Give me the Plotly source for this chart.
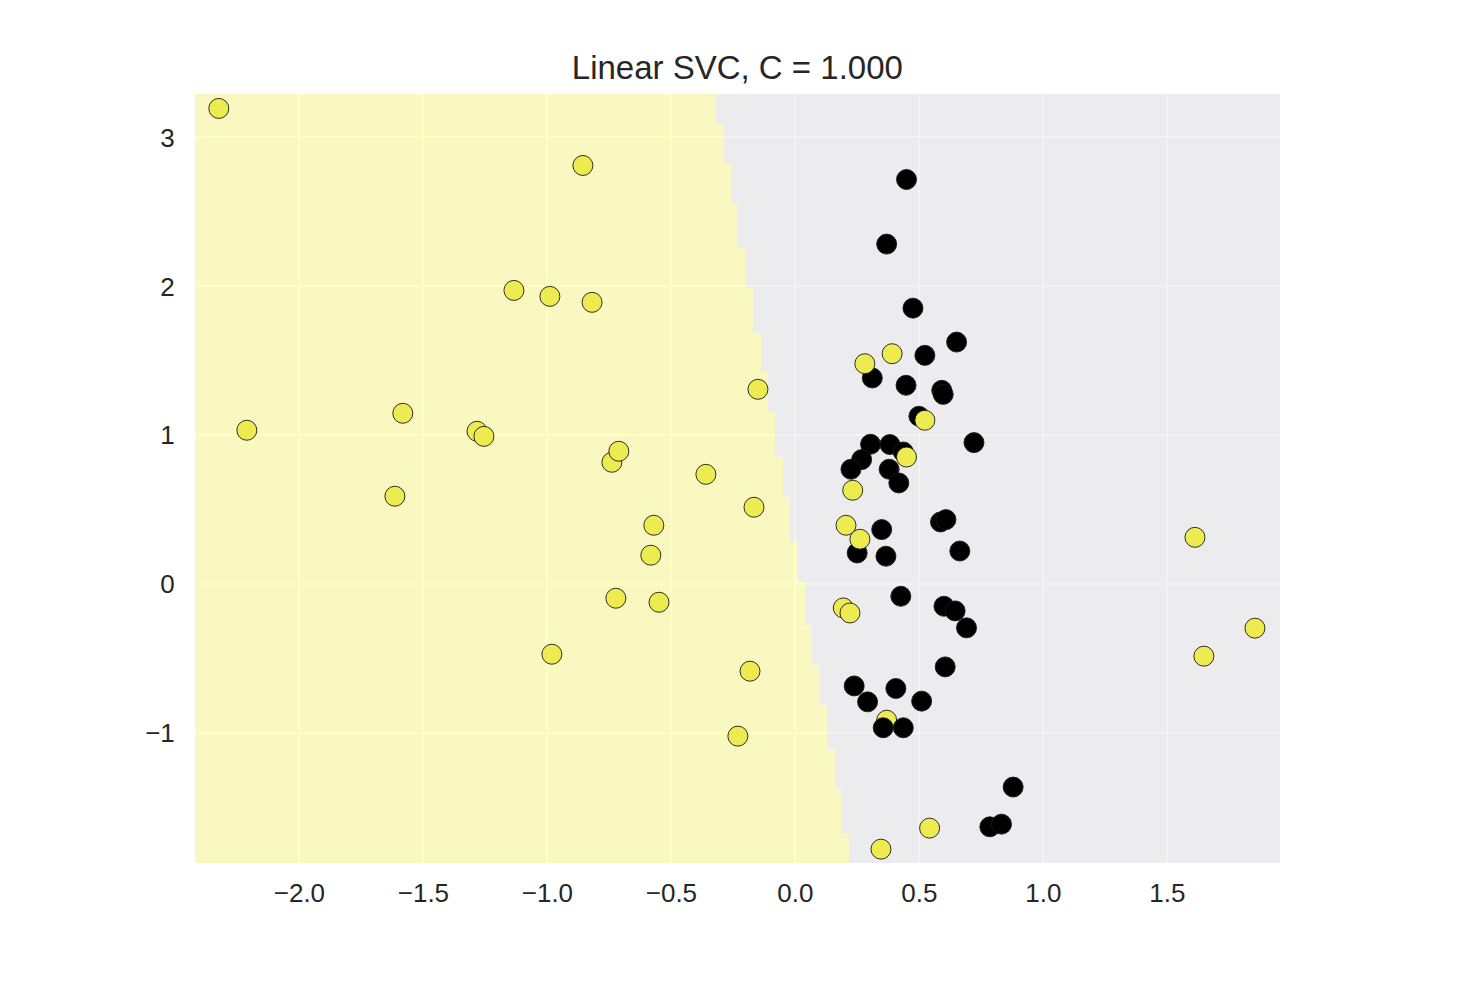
import numpy as np
import plotly.graph_objects as go

# Points (label 1 = yellow class, 0 = black class)
x_pts = [
    -2.325, -0.857, -1.135, -0.990, -0.820, -0.151, -2.212, -1.583, -1.284, -1.256,
    -0.740, -0.712, -0.361, -1.615, -0.167, -0.571, -0.583, -0.724, -0.550, -0.982,
    -0.183, -0.232, 1.611, 1.853, 1.647, 0.541, 0.345, 0.368,
    0.448, 0.368, 0.474, 0.650, 0.522, 0.310, 0.446, 0.590, 0.596, 0.498,
    0.720, 0.303, 0.381, 0.435, 0.267, 0.224, 0.378, 0.417, 0.585, 0.607,
    0.663, 0.348, 0.249, 0.365, 0.425, 0.599, 0.644, 0.690, 0.604, 0.237,
    0.405, 0.291, 0.509, 0.354, 0.435, 0.878, 0.784, 0.831,
    0.280, 0.390, 0.522, 0.448, 0.231, 0.204, 0.260, 0.193, 0.220,
]
y_pts = [
    3.195, 2.812, 1.973, 1.933, 1.893, 1.309, 1.034, 1.148, 1.027, 0.993,
    0.819, 0.893, 0.738, 0.591, 0.517, 0.396, 0.195, -0.094, -0.121, -0.470,
    -0.584, -1.020, 0.315, -0.295, -0.483, -1.638, -1.779, -0.913,
    2.718, 2.284, 1.854, 1.626, 1.537, 1.385, 1.336, 1.302, 1.275, 1.128,
    0.951, 0.940, 0.938, 0.888, 0.837, 0.772, 0.772, 0.680, 0.418, 0.434,
    0.223, 0.367, 0.210, 0.188, -0.081, -0.148, -0.179, -0.293, -0.555, -0.683,
    -0.700, -0.790, -0.785, -0.964, -0.964, -1.362, -1.629, -1.611,
    1.481, 1.548, 1.101, 0.854, 0.631, 0.396, 0.302, -0.159, -0.193,
]
labels = [1] * 28 + [0] * 38 + [1] * 9

# Decision boundary of the linear SVC, two points read from the staircase edge
boundary_x = [-0.291, 0.187]
boundary_y = [2.968, -1.530]

x_ticks = [-2.0, -1.5, -1.0, -0.5, 0.0, 0.5, 1.0, 1.5]
x_tick_text = ['\u22122.0', '\u22121.5', '\u22121.0', '\u22120.5', '0.0', '0.5', '1.0', '1.5']
y_ticks = [-1, 0, 1, 2, 3]
y_tick_text = ['\u22121', '0', '1', '2', '3']

x_range = [-2.421, 1.954]
y_range = [-1.872, 3.292]

# mesh for the decision regions
h = 0.0298
xx = np.arange(x_range[0] - h, x_range[1] + 2 * h, h)
yy = np.arange(y_range[0] - h, y_range[1] + 2 * h, h)
XX, YY = np.meshgrid(xx, yy)
slope = (boundary_x[1] - boundary_x[0]) / (boundary_y[1] - boundary_y[0])
ZZ = (XX < boundary_x[0] + slope * (YY - boundary_y[0])).astype(int)

fig = go.Figure()

fig.add_trace(go.Heatmap(
    x=xx, y=yy, z=ZZ,
    colorscale=[[0, '#EDEDEC'], [1, '#FFFFA5']],
    zmin=0, zmax=1,
    showscale=False,
    opacity=0.65,
    hoverinfo='skip',
))

pt_colors = ['#EDEB4F' if c == 1 else '#000000' for c in labels]
fig.add_trace(go.Scatter(
    x=x_pts, y=y_pts,
    mode='markers',
    marker=dict(size=20, color=pt_colors, line=dict(width=0.9, color='#1a1a1a')),
    showlegend=False,
))

# page body adds an 8px offset, so the figure is sized/margined to compensate
fig.update_layout(
    width=1450, height=972,
    paper_bgcolor='white',
    plot_bgcolor='#EAEAF2',
    margin=dict(l=187, r=178, t=86, b=117),
    font=dict(family='Liberation Sans, Arial, sans-serif', color='#262626'),
    title=dict(
        text='Linear SVC, C = 1.000',
        x=0.503, xanchor='center',
        y=1 - 59 / 972, yref='container', yanchor='middle',
        font=dict(size=33, color='#262626'),
    ),
    xaxis=dict(
        range=x_range, tickvals=x_ticks, ticktext=x_tick_text,
        showgrid=True, gridcolor='white', gridwidth=2, zeroline=False,
        ticks='outside', ticklen=7, tickcolor='rgba(0,0,0,0)',
        tickfont=dict(size=26), showline=False,
    ),
    yaxis=dict(
        range=y_range, tickvals=y_ticks, ticktext=y_tick_text,
        showgrid=True, gridcolor='white', gridwidth=2, zeroline=False,
        ticks='outside', ticklen=14, tickcolor='rgba(0,0,0,0)',
        tickfont=dict(size=26), showline=False,
    ),
)

fig.write_html('out.html')
